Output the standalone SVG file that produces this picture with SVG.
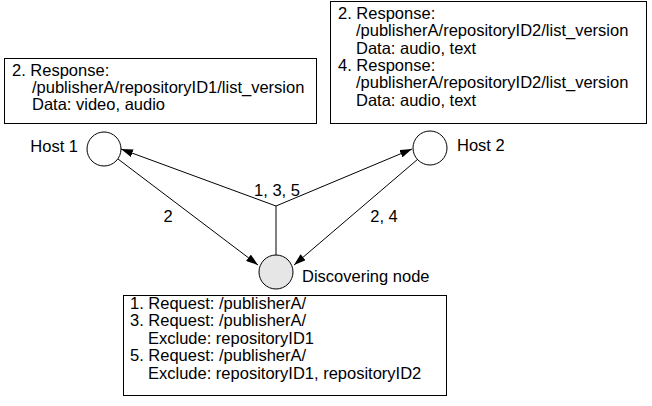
<svg xmlns="http://www.w3.org/2000/svg" width="652" height="406" viewBox="0 0 652 406">
  <style>
    text { font-family: "Liberation Sans", Arial, sans-serif; font-size: 16.5px; fill: #000; }
    .box { fill: #fff; stroke: #000; stroke-width: 1; }
    .host { fill: #fff; stroke: #000; stroke-width: 1; }
    .disc { fill: #e6e6e6; stroke: #000; stroke-width: 1; }
    .edge { fill: none; stroke: #000; stroke-width: 1; }
  </style>
  <defs>
    <marker id="arrow" viewBox="0 0 12 8" refX="12" refY="4" markerWidth="12" markerHeight="8" markerUnits="userSpaceOnUse" orient="auto">
      <path d="M0,0 L12,4 L0,8 Z" fill="#000"/>
    </marker>
  </defs>
  <rect width="652" height="406" fill="#fff"/>

  <g id="connectors">
    <path class="edge" d="M276,255 L276,206"/>
    <path class="edge" d="M276,206 L121,149" marker-end="url(#arrow)"/>
    <path class="edge" d="M276,206 L412,149" marker-end="url(#arrow)"/>
    <path class="edge" d="M118,159 L258,265" marker-end="url(#arrow)"/>
    <path class="edge" d="M418,159 L294,265" marker-end="url(#arrow)"/>
    <text x="277" y="196" text-anchor="middle">1, 3, 5</text>
    <text x="168" y="222" text-anchor="middle">2</text>
    <text x="384" y="222" text-anchor="middle">2, 4</text>
  </g>

  <g id="host1">
    <circle class="host" cx="104" cy="149" r="17"/>
    <text x="78" y="152" text-anchor="end">Host 1</text>
  </g>

  <g id="host2">
    <circle class="host" cx="430" cy="148" r="17"/>
    <text x="457" y="151">Host 2</text>
  </g>

  <g id="discovering-node">
    <circle class="disc" cx="276" cy="272" r="17"/>
    <text x="302" y="282">Discovering node</text>
  </g>

  <g id="response-host1">
    <rect class="box" x="4.5" y="58.5" width="312" height="65"/>
    <text x="12" y="76">2. Response:</text>
    <text x="32" y="93">/publisherA/repositoryID1/list_version</text>
    <text x="32" y="110">Data: video, audio</text>
  </g>

  <g id="response-host2">
    <rect class="box" x="330.5" y="1.5" width="316" height="122"/>
    <text x="338" y="19">2. Response:</text>
    <text x="356" y="36">/publisherA/repositoryID2/list_version</text>
    <text x="356" y="53.5">Data: audio, text</text>
    <text x="338" y="71">4. Response:</text>
    <text x="356" y="88">/publisherA/repositoryID2/list_version</text>
    <text x="356" y="105.5">Data: audio, text</text>
  </g>

  <g id="requests">
    <rect class="box" x="123.5" y="295.5" width="323" height="100"/>
    <text x="130" y="309">1. Request: /publisherA/</text>
    <text x="130" y="326">3. Request: /publisherA/</text>
    <text x="148" y="343.5">Exclude: repositoryID1</text>
    <text x="130" y="361">5. Request: /publisherA/</text>
    <text x="148" y="378.5">Exclude: repositoryID1, repositoryID2</text>
  </g>
</svg>
